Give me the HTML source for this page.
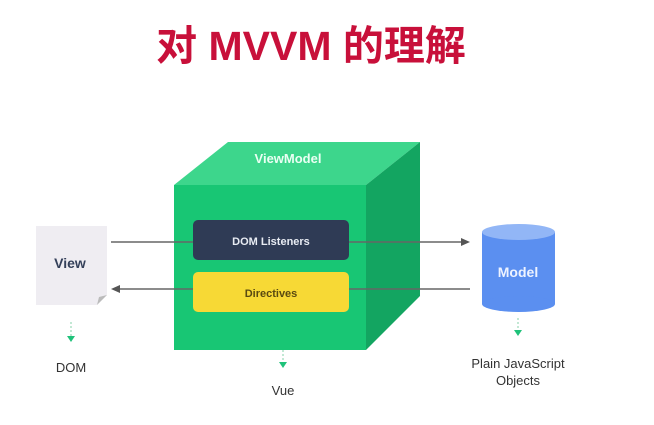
<!DOCTYPE html>
<html><head><meta charset="utf-8"><style>
body{margin:0;width:654px;height:420px;background:#fff;overflow:hidden;font-family:"Liberation Sans","Noto Sans CJK SC",sans-serif}
</style></head><body>
<svg width="654" height="420" xmlns="http://www.w3.org/2000/svg" font-family="Liberation Sans, Noto Sans CJK SC, sans-serif">
<text x="311" y="60" text-anchor="middle" font-size="41" font-weight="bold" fill="#c8103a">对 MVVM 的理解</text>
<!-- cube -->
<polygon points="174,185 228,142 420,142 366,185" fill="#3dd68c"/>
<polygon points="366,185 420,142 420,296 366,350" fill="#13a561"/>
<rect x="174" y="185" width="192" height="165" fill="#18c674"/>
<text x="288" y="163" text-anchor="middle" font-size="13" font-weight="bold" fill="#eafff3">ViewModel</text>
<!-- arrows -->
<line x1="111" y1="242" x2="462" y2="242" stroke="#666" stroke-width="1.5"/>
<polygon points="470,242 461,238 461,246" fill="#555"/>
<line x1="120" y1="289" x2="470" y2="289" stroke="#666" stroke-width="1.5"/>
<polygon points="111,289 120,285 120,293" fill="#555"/>
<rect x="193" y="220" width="156" height="40" rx="5" fill="#2f3b55"/>
<text x="271" y="245" text-anchor="middle" font-size="11" font-weight="bold" fill="#e8ecf3">DOM Listeners</text>
<rect x="193" y="272" width="156" height="40" rx="5" fill="#f7d935"/>
<text x="271" y="297" text-anchor="middle" font-size="11" font-weight="bold" fill="#5a4a10">Directives</text>
<!-- view -->
<polygon points="36,226 107,226 107,295 97,305 36,305" fill="#efedf2"/>
<polygon points="97,305 107,295 99,297" fill="#bbb"/>
<text x="70" y="268" text-anchor="middle" font-size="14" font-weight="bold" fill="#34405a">View</text>
<!-- model -->
<rect x="482" y="232" width="73" height="72" fill="#5b8ff0"/>
<ellipse cx="518.5" cy="304" rx="36.5" ry="8" fill="#5b8ff0"/>
<ellipse cx="518.5" cy="232" rx="36.5" ry="8" fill="#92b6f6"/>
<text x="518" y="277" text-anchor="middle" font-size="14" font-weight="bold" fill="#eef3ff">Model</text>
<!-- dotted -->
<g stroke="#9ad9b8" stroke-width="1.2" stroke-dasharray="2,2">
<line x1="71" y1="322" x2="71" y2="336"/><line x1="283" y1="350" x2="283" y2="362"/><line x1="518" y1="318" x2="518" y2="330"/></g>
<g fill="#1fc27a"><polygon points="67,336 75,336 71,342"/><polygon points="279,362 287,362 283,368"/><polygon points="514,330 522,330 518,336"/></g>
<g font-size="13" fill="#333" text-anchor="middle">
<text x="71" y="372">DOM</text><text x="283" y="395">Vue</text>
<text x="518" y="368">Plain JavaScript</text><text x="518" y="385">Objects</text></g>
</svg>
</body></html>
